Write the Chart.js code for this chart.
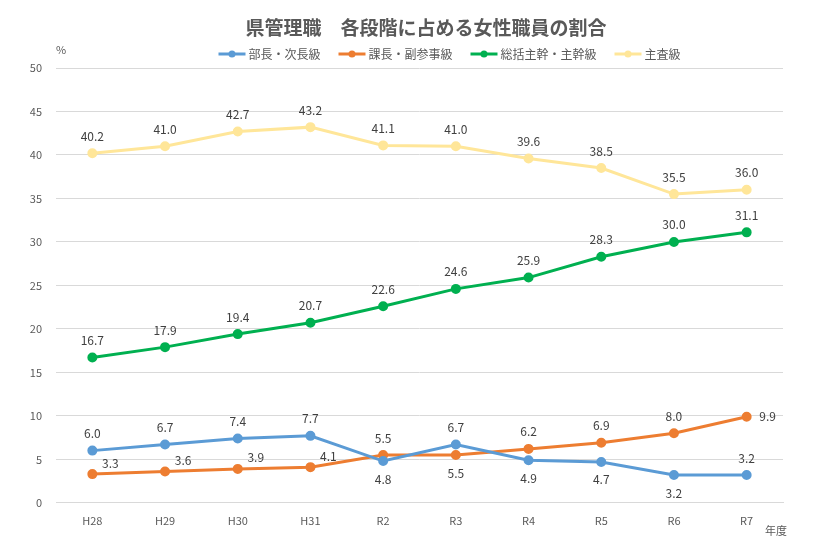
<!DOCTYPE html>
<html lang="ja">
<head>
<meta charset="utf-8">
<title>県管理職　各段階に占める女性職員の割合</title>
<script src="https://cdn.jsdelivr.net/npm/chart.js@4.4.1/dist/chart.umd.min.js"></script>
<style>
  html, body { margin: 0; padding: 0; background: #fff; }
  #wrap { width: 824px; height: 558px; }
</style>
</head>
<body>
<div id="wrap"><canvas id="lineChart"></canvas></div>
<script>
// Data
const years = ['H28', 'H29', 'H30', 'H31', 'R2', 'R3', 'R4', 'R5', 'R6', 'R7'];
const buchoJichoKyu = [6.0, 6.7, 7.4, 7.7, 4.8, 6.7, 4.9, 4.7, 3.2, 3.2];
const kachoFukusanjiKyu = [3.3, 3.6, 3.9, 4.1, 5.5, 5.5, 6.2, 6.9, 8.0, 9.9];
const sokatsuShukanKyu = [16.7, 17.9, 19.4, 20.7, 22.6, 24.6, 25.9, 28.3, 30.0, 31.1];
const shusaKyu = [40.2, 41.0, 42.7, 43.2, 41.1, 41.0, 39.6, 38.5, 35.5, 36.0];
const yTicks = [0, 5, 10, 15, 20, 25, 30, 35, 40, 45, 50];

// where each value label sits relative to its point
const buchoLabelPos = ['top', 'top', 'top', 'top', 'bottom', 'top', 'bottom', 'bottom', 'bottom', 'top'];
const kachoLabelPos = ['topright', 'topright', 'topright', 'topright', 'top', 'bottom', 'top', 'top', 'top', 'right'];

const FONT = "'Noto Sans CJK JP', 'Noto Sans', sans-serif";
const TEXT = '#595959';

function series(label, data, color, labelPos) {
    return {
        label: label,
        data: data,
        borderColor: color,
        backgroundColor: color,
        borderWidth: 3,
        pointStyle: 'circle',
        pointRadius: 3.5,
        pointHoverRadius: 3.5,
        labelPos: labelPos,
        tension: 0
    };
}

// value labels, legend row and the "%" / "年度" unit captions
const decorations = {
    id: 'decorations',
    afterDatasetsDraw(chart) {
        const ctx = chart.ctx;
        ctx.save();
        ctx.font = '12px ' + FONT;
        ctx.fillStyle = '#404040';
        ctx.textAlign = 'center';
        ctx.textBaseline = 'middle';
        chart.data.datasets.forEach((ds, i) => {
            const meta = chart.getDatasetMeta(i);
            meta.data.forEach((pt, j) => {
                const pos = ds.labelPos ? ds.labelPos[j] : 'top';
                let dx = 0, dy = -17;
                if (pos === 'bottom') dy = 18;
                if (pos === 'right') { dx = 21; dy = 0; }
                if (pos === 'topright') { dx = 18; dy = -11; }
                ctx.fillText(ds.data[j].toFixed(1), pt.x + dx, pt.y + dy);
            });
        });

        // legend: line-with-dot glyph + name, centred a bit right of the plot
        const glyphW = 27, glyphGap = 3, itemGap = 18;
        const widths = chart.data.datasets.map(ds => glyphW + glyphGap + ctx.measureText(ds.label).width);
        const total = widths.reduce((a, b) => a + b, 0) + itemGap * (widths.length - 1);
        const area = chart.chartArea;
        let x = (area.left + area.right) / 2 + 30 - total / 2;
        const y = area.top - 14;
        ctx.textAlign = 'left';
        chart.data.datasets.forEach((ds, i) => {
            ctx.strokeStyle = ds.borderColor;
            ctx.fillStyle = ds.borderColor;
            ctx.lineWidth = 3;
            ctx.beginPath();
            ctx.moveTo(x, y);
            ctx.lineTo(x + glyphW, y);
            ctx.stroke();
            ctx.beginPath();
            ctx.arc(x + glyphW / 2, y, 3.5, 0, Math.PI * 2);
            ctx.fill();
            ctx.fillStyle = TEXT;
            ctx.fillText(ds.label, x + glyphW + glyphGap, y);
            x += widths[i] + itemGap;
        });

        ctx.textAlign = 'center';
        ctx.fillStyle = TEXT;
        ctx.font = '11px ' + FONT;
        ctx.fillText('%', area.left + 5, area.top - 18);
        ctx.fillText('年度', area.right - 7, area.bottom + 28);
        ctx.restore();
    }
};

document.addEventListener('DOMContentLoaded', function() {
    const ctx = document.getElementById('lineChart');
    new Chart(ctx, {
        type: 'line',
        data: {
            labels: years,
            datasets: [
                series('部長・次長級', buchoJichoKyu, '#5B9BD5', buchoLabelPos),
                series('課長・副参事級', kachoFukusanjiKyu, '#ED7D31', kachoLabelPos),
                series('総括主幹・主幹級', sokatsuShukanKyu, '#00B050', null),
                series('主査級', shusaKyu, '#FFE699', null)
            ]
        },
        options: {
            responsive: true,
            maintainAspectRatio: false,
            animation: false,
            layout: { padding: { top: 16, right: 0, bottom: 20, left: 28 } },
            plugins: {
                title: {
                    display: true,
                    text: '県管理職　各段階に占める女性職員の割合',
                    color: TEXT,
                    font: { family: FONT, size: 19, weight: 'bold' },
                    padding: { top: 0, bottom: 29.2 }
                },
                legend: { display: false },
                tooltip: { enabled: false }
            },
            scales: {
                x: {
                    offset: true,
                    grid: { display: false, drawTicks: false },
                    border: { color: '#D9D9D9' },
                    ticks: { color: TEXT, font: { family: FONT, size: 11 }, padding: 11 }
                },
                y: {
                    min: 0,
                    max: 50,
                    afterFit: (scale) => { scale.width = 28; },
                    afterBuildTicks: (scale) => { scale.ticks = yTicks.map(v => ({ value: v })); },
                    grid: { color: '#D9D9D9', drawTicks: false },
                    border: { display: false },
                    ticks: { color: TEXT, font: { family: FONT, size: 11 }, padding: 14 }
                },
                // empty right-hand strip so the plot ends where the reference's does
                yRight: {
                    position: 'right',
                    min: 0,
                    max: 50,
                    afterFit: (scale) => { scale.width = 41; },
                    grid: { display: false, drawTicks: false },
                    border: { display: false },
                    ticks: { display: false }
                }
            }
        },
        plugins: [decorations]
    });
});
</script>
</body>
</html>
